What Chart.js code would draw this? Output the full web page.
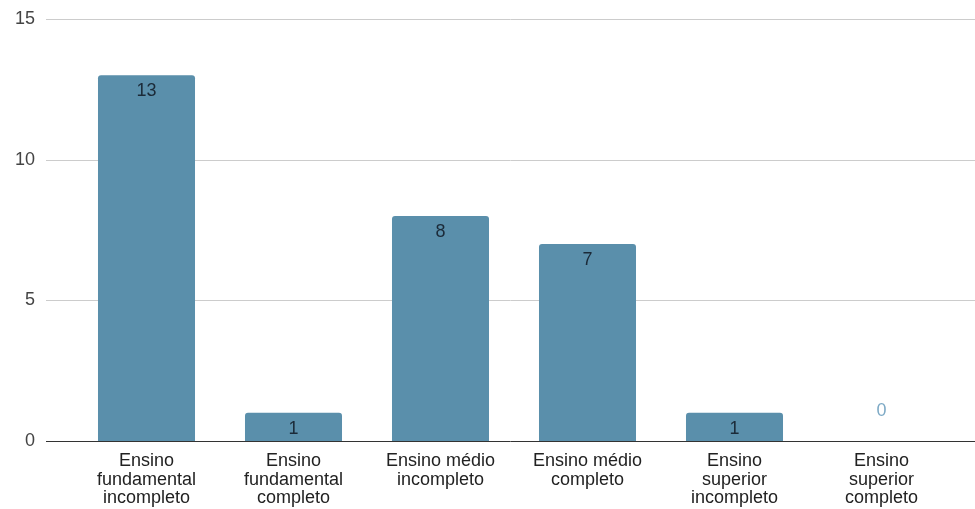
<!DOCTYPE html>
<html>
<head>
<meta charset="utf-8">
<script src="https://cdn.jsdelivr.net/npm/chart.js@4"></script>
<style>
  html, body { margin: 0; padding: 0; background: #fff; }
  #wrap { width: 975px; height: 509px; position: relative; }
</style>
</head>
<body>
<div id="wrap"><canvas id="escolaridadeChart"></canvas></div>
<script>
// Escolaridade
const categorias = [
    ['Ensino', 'fundamental', 'incompleto'],
    ['Ensino', 'fundamental', 'completo'],
    ['Ensino médio', 'incompleto'],
    ['Ensino médio', 'completo'],
    ['Ensino', 'superior', 'incompleto'],
    ['Ensino', 'superior', 'completo']
];
const quantidades = [13, 1, 8, 7, 1, 0];
const ticksY = [0, 5, 10, 15];

const FONTE = "'Liberation Sans', Arial, sans-serif";

// linhas de grade horizontais um pouco além da área das barras
const gradePlugin = {
    id: 'grade',
    beforeDatasetsDraw(chart) {
        const { ctx, chartArea, scales } = chart;
        const x0 = chartArea.left - 27;
        const x1 = chartArea.right + 20;
        ctx.save();
        ticksY.forEach(v => {
            const y = Math.round(scales.y.getPixelForValue(v)) + 0.5;
            ctx.beginPath();
            ctx.strokeStyle = v === 0 ? '#333333' : '#cccccc';
            ctx.lineWidth = 1;
            ctx.moveTo(x0, y);
            ctx.lineTo(x1, y);
            ctx.stroke();
        });
        ctx.restore();
    }
};

// valores escritos dentro do topo de cada barra
const rotulosPlugin = {
    id: 'rotulos',
    afterDatasetsDraw(chart) {
        const { ctx } = chart;
        const meta = chart.getDatasetMeta(0);
        ctx.save();
        ctx.font = '18px ' + FONTE;
        ctx.textAlign = 'center';
        ctx.textBaseline = 'middle';
        meta.data.forEach((bar, i) => {
            const v = quantidades[i];
            if (v === 0) {
                ctx.fillStyle = '#7eaac6';
                ctx.fillText(String(v), bar.x, bar.y - 30);
            } else {
                ctx.fillStyle = '#1b2a38';
                ctx.fillText(String(v), bar.x, bar.y + 16);
            }
        });
        ctx.restore();
    }
};

new Chart(document.getElementById('escolaridadeChart').getContext('2d'), {
    type: 'bar',
    data: {
        labels: categorias,
        datasets: [{
            data: quantidades,
            backgroundColor: '#5a8fab',
            borderRadius: { topLeft: 3, topRight: 3 },
            borderSkipped: 'bottom',
            categoryPercentage: 1,
            barPercentage: 0.66
        }]
    },
    options: {
        responsive: true,
        maintainAspectRatio: false,
        animation: false,
        layout: { padding: { top: 19, right: 20, left: 0, bottom: 0 } },
        plugins: {
            legend: { display: false },
            tooltip: { enabled: false }
        },
        scales: {
            x: {
                grid: { display: false, drawTicks: false },
                border: { display: false },
                ticks: {
                    color: '#222222',
                    font: { family: FONTE, size: 18, lineHeight: 1.03 },
                    padding: 11,
                    maxRotation: 0,
                    autoSkip: false
                },
                afterFit(scale) {
                    scale.height = 68;
                    scale.paddingLeft = 0;
                    scale.paddingRight = 0;
                }
            },
            y: {
                min: 0,
                max: 15,
                grid: { display: false, drawTicks: false },
                border: { display: false },
                afterBuildTicks(scale) {
                    scale.ticks = ticksY.map(v => ({ value: v }));
                },
                ticks: {
                    color: '#444444',
                    font: { family: FONTE, size: 18 },
                    padding: 38
                },
                afterFit(scale) {
                    scale.width = 73;
                    scale.paddingTop = 0;
                    scale.paddingBottom = 0;
                }
            }
        }
    },
    plugins: [gradePlugin, rotulosPlugin]
});
</script>
</body>
</html>
